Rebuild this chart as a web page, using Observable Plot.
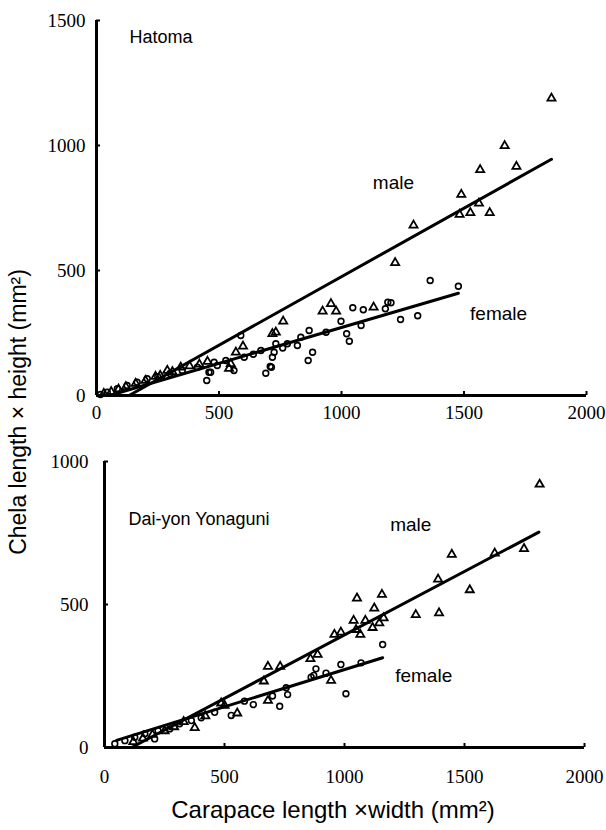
<!DOCTYPE html>
<html>
<head>
<meta charset="utf-8">
<script src="https://cdn.jsdelivr.net/npm/d3@7"></script>
<script src="https://cdn.jsdelivr.net/npm/@observablehq/plot@0.6"></script>
<style>
  html, body { margin: 0; padding: 0; background: #fff; }
  #wrap { position: relative; width: 606px; height: 830px; overflow: hidden; }
  #top, #bottom { position: absolute; left: 0; }
  #top { top: 0; }
  #bottom { top: 430px; }
  .ylab { position: absolute; left: 18px; top: 412px; transform: translate(-50%, -50%) rotate(-90deg); white-space: nowrap;
          font-family: "Liberation Sans", Arial, sans-serif; font-size: 23px; color: #000; line-height: 1; }
  .xlab { position: absolute; left: 333px; top: 810px; transform: translate(-50%, -50%); white-space: nowrap;
          font-family: "Liberation Sans", Arial, sans-serif; font-size: 24px; color: #000; line-height: 1; }
</style>
</head>
<body>
<div id="wrap">
  <div id="top"></div>
  <div id="bottom"></div>
  <div class="ylab">Chela length × height (mm²)</div>
  <div class="xlab">Carapace length ×width (mm²)</div>
</div>
<script>
// ---------- data ----------
const xTicks = [0, 500, 1000, 1500, 2000];
const hatomaYTicks = [0, 500, 1000, 1500];
const yonaguniYTicks = [0, 500, 1000];

const hatomaMale = [
  [1857,1189],[1666,999],[1566,903],[1714,916],[1489,804],[1561,769],[1482,724],[1526,731],[1605,731],
  [1294,681],[1219,531],[957,367],[923,337],[978,337],[1131,353],[762,297],[732,253],[718,247],
  [598,197],[569,173],[453,136],[548,127],[541,108],[289,100],[344,113],[241,76],[380,118],[200,60],
  [160,48],[120,35],[90,25],[60,15],[30,8],[260,80],[310,95],[420,125]
];
const hatomaFemale = [
  [1362,460],[1477,437],[1046,351],[1089,343],[1189,373],[1202,371],[1179,347],[998,297],[1080,280],
  [1021,247],[1032,217],[1241,304],[1311,319],[589,240],[732,207],[725,173],[718,153],[714,113],
  [691,89],[709,116],[868,260],[834,233],[820,200],[882,173],[864,140],[937,253],[779,207],[671,180],
  [603,153],[528,140],[561,100],[480,133],[466,93],[450,60],[459,93],[493,120],[412,113],[350,100],
  [300,88],[250,75],[207,67],[166,53],[125,40],[85,27],[44,13],[16,4],[640,165],[760,190]
];
const hatomaMaleFit = [[133,0],[1857,945]];
const hatomaFemaleFit = [[60,2],[1477,409]];

const yonaguniMale = [
  [1813,920],[1748,695],[1626,679],[1447,675],[1522,551],[1390,588],[1297,464],[1394,470],[1156,535],
  [1052,522],[1124,487],[1038,444],[1087,444],[1163,453],[1145,435],[1117,419],[1048,412],[1066,395],
  [985,403],[958,395],[888,325],[858,310],[681,283],[732,283],[664,232],[944,234],[681,164],[553,120],
  [486,155],[500,147],[376,69],[330,90],[290,72],[250,58],[200,45],[160,32],[120,20],[420,110]
];
const yonaguniFemale = [
  [1159,360],[985,290],[1069,296],[1006,188],[881,275],[872,252],[923,260],[861,246],[757,209],
  [763,185],[730,144],[528,112],[583,162],[459,123],[403,104],[362,94],[313,83],[272,65],[223,59],
  [209,30],[168,48],[126,36],[85,24],[43,13],[620,150],[700,180]
];
const yonaguniMaleFit = [[113,0],[1810,753]];
const yonaguniFemaleFit = [[50,25],[1159,314]];

const hatomaLabels = [
  {text: "male", x: 1212, y: 852},
  {text: "female", x: 1641, y: 328}
];
const yonaguniLabels = [
  {text: "male", x: 1276, y: 780},
  {text: "female", x: 1330, y: 252}
];

// ---------- drawing ----------
const serif = '"Liberation Serif", "Times New Roman", serif';
const sans = '"Liberation Sans", Arial, sans-serif';

function panel({yDomain, yTicks, male, female, maleFit, femaleFit, labels, title, titleDx, titleDy,
                height, marginTop, marginBottom, marginLeft, marginRight, xPad, yPad}) {
  const frameW = 606 - marginLeft - marginRight;
  const frameH = height - marginTop - marginBottom;
  return Plot.plot({
    width: 606, height, marginTop, marginBottom, marginLeft, marginRight,
    style: {fontFamily: serif, background: "white", color: "black", overflow: "visible"},
    x: {domain: [0, 2000]},
    y: {domain: yDomain},
    marks: [
      Plot.axisX(xTicks, {tickSize: 0, tickPadding: xPad, fontSize: 19, fontFamily: serif, label: null, tickFormat: d => String(d)}),
      Plot.axisY(yTicks, {tickSize: 0, tickPadding: yPad, fontSize: 19, fontFamily: serif, label: null, tickFormat: d => String(d)}),
      Plot.tickX(xTicks, {x: d => d, insetTop: frameH - 4, stroke: "black", strokeWidth: 2}),
      Plot.tickY(yTicks, {y: d => d, insetRight: frameW - 4, stroke: "black", strokeWidth: 2}),
      Plot.ruleY([0], {stroke: "black", strokeWidth: 3}),
      Plot.ruleX([0], {stroke: "black", strokeWidth: 3}),
      Plot.line(maleFit, {x: d => d[0], y: d => d[1], stroke: "black", strokeWidth: 3}),
      Plot.line(femaleFit, {x: d => d[0], y: d => d[1], stroke: "black", strokeWidth: 3}),
      Plot.dot(female, {x: d => d[0], y: d => d[1], r: 2.9, stroke: "black", strokeWidth: 1.6, fill: "none"}),
      Plot.dot(male, {x: d => d[0], y: d => d[1], symbol: "triangle", r: 3.0, stroke: "black", strokeWidth: 1.8, fill: "none"}),
      Plot.text(labels, {x: "x", y: "y", text: "text", fontFamily: sans, fontSize: 19, fill: "black"}),
      Plot.text([title], {frameAnchor: "top-left", dx: titleDx, dy: titleDy, textAnchor: "start", lineAnchor: "middle",
                          fontFamily: sans, fontSize: 18, fill: "black"})
    ]
  });
}

document.getElementById("top").appendChild(panel({
  yDomain: [0, 1500], yTicks: hatomaYTicks, male: hatomaMale, female: hatomaFemale,
  maleFit: hatomaMaleFit, femaleFit: hatomaFemaleFit, labels: hatomaLabels,
  title: "Hatoma", titleDx: 33, titleDy: 17,
  height: 430, marginTop: 20, marginBottom: 35, marginLeft: 96, marginRight: 20, xPad: 10, yPad: 11
}));

document.getElementById("bottom").appendChild(panel({
  yDomain: [0, 1000], yTicks: yonaguniYTicks, male: yonaguniMale, female: yonaguniFemale,
  maleFit: yonaguniMaleFit, femaleFit: yonaguniFemaleFit, labels: yonaguniLabels,
  title: "Dai-yon Yonaguni", titleDx: 24, titleDy: 58,
  height: 360, marginTop: 31, marginBottom: 43, marginLeft: 104, marginRight: 22, xPad: 22, yPad: 16
}));
</script>
</body>
</html>
